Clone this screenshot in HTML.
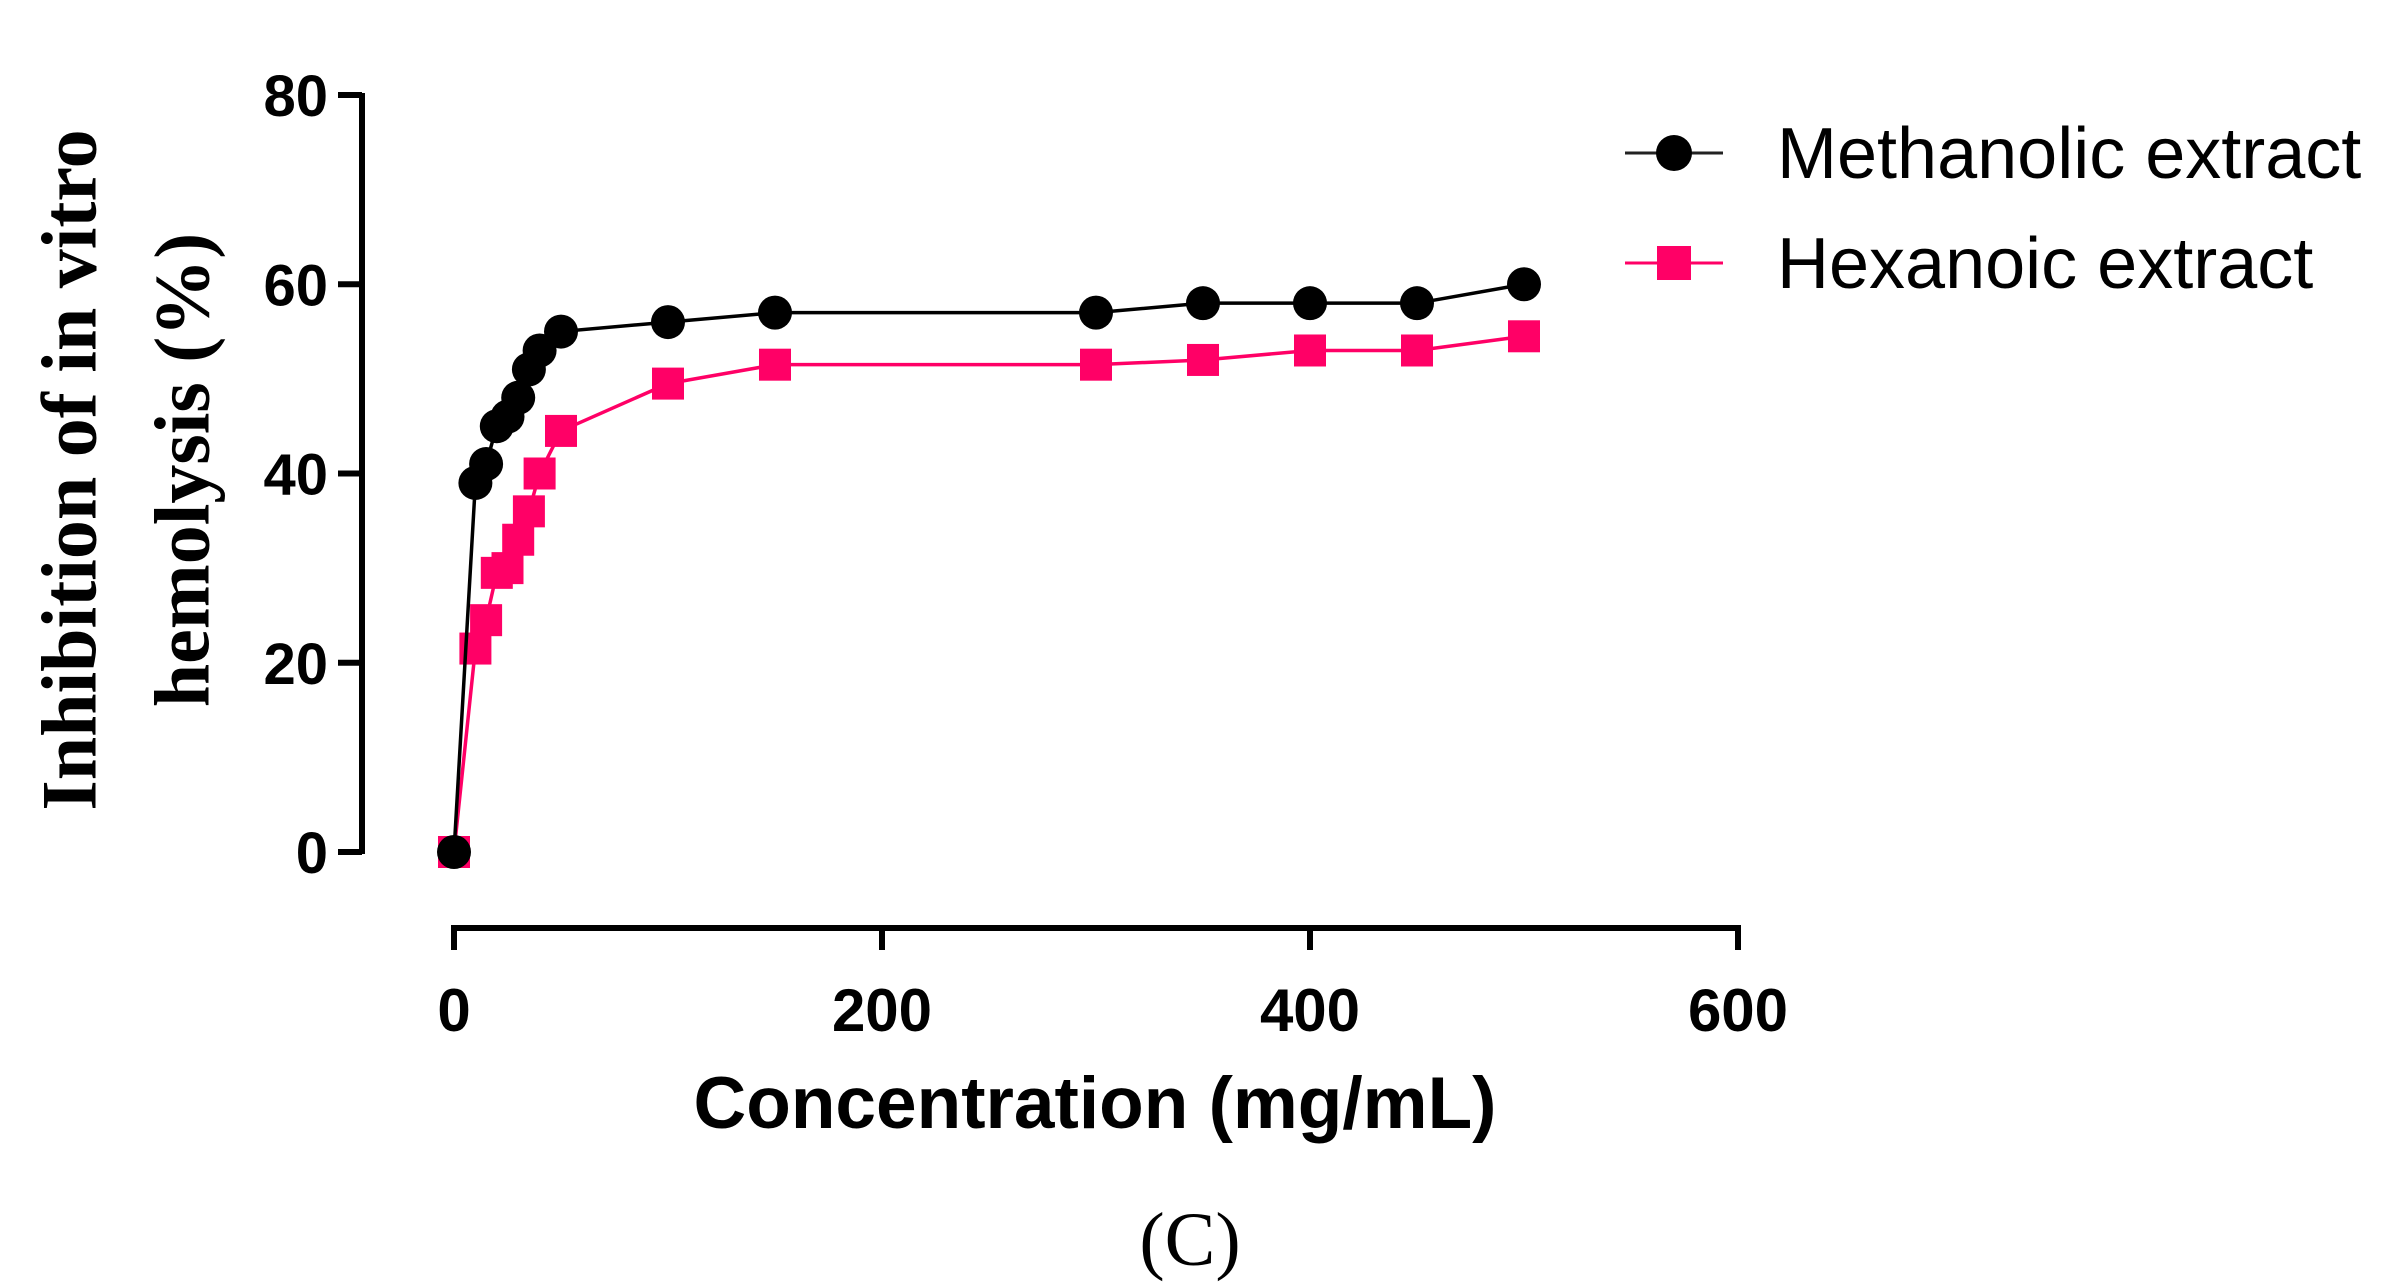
<!DOCTYPE html>
<html><head><meta charset="utf-8"><style>
html,body{margin:0;padding:0;background:#fff;}
svg{display:block;}
</style></head><body>
<svg id="chart" width="2397" height="1283" viewBox="0 0 2397 1283" xmlns="http://www.w3.org/2000/svg">
<g id="axes"></g>
<g id="series"></g>
<text x="69" y="470" transform="rotate(-90 69 470)" text-anchor="middle" dominant-baseline="central" font-family="Liberation Serif, serif" font-weight="bold" font-size="78" fill="#000">Inhibition of in vitro</text>
<text x="182" y="470" transform="rotate(-90 182 470)" text-anchor="middle" dominant-baseline="central" font-family="Liberation Serif, serif" font-weight="bold" font-size="78" fill="#000">hemolysis (%)</text>
<text x="1095" y="1128" text-anchor="middle" font-family="Liberation Sans, sans-serif" font-weight="bold" font-size="73" fill="#000">Concentration (mg/mL)</text>
<text x="1190" y="1265" text-anchor="middle" font-family="Liberation Serif, serif" font-size="76" fill="#000">(C)</text>
<g>
<g>
<line x1="1625" y1="153" x2="1723" y2="153" stroke="#222" stroke-width="3"/>
<circle cx="1674" cy="153" r="18" fill="#000"/>
<text x="1777" y="178" font-family="Liberation Sans, sans-serif" font-size="72" fill="#000">Methanolic extract</text>
</g>
<g>
<line x1="1625" y1="263" x2="1723" y2="263" stroke="#ff0066" stroke-width="3"/>
<rect x="1657" y="246" width="34" height="34" fill="#ff0066"/>
<text x="1777" y="288" font-family="Liberation Sans, sans-serif" font-size="72" fill="#000">Hexanoic extract</text>
</g>
</g>
</svg>
<script>
const concentrations = [0,10,15,20,25,30,35,40,50,100,150,300,350,400,450,500];
const methanolic = [0,39,41,45,46,48,51,53,55,56,57,57,58,58,58,60];
const hexanoic = [0,21.5,24.5,29.5,30,33,36,40,44.5,49.5,51.5,51.5,52,53,53,54.5];
const yTicks = [0,20,40,60,80];
const xTicks = [0,200,400,600];

const NS='http://www.w3.org/2000/svg';
const X0=454,X1=1738,Y0=852,Y1=95;
const xs=v=>X0+(v/600)*(X1-X0);
const ys=v=>Y0-(v/80)*(Y0-Y1);
function mk(tag,attrs,parent){const e=document.createElementNS(NS,tag);for(const k in attrs)e.setAttribute(k,attrs[k]);parent.appendChild(e);return e;}
const axes=document.getElementById('axes');
const ser=document.getElementById('series');
let ya=mk('line',{x1:362,y1:Y1-2,x2:362,y2:Y0+2,stroke:'#000','stroke-width':6},axes);


yTicks.forEach(t=>{
 const l=mk('line',{x1:338,y1:ys(t),x2:362,y2:ys(t),stroke:'#000','stroke-width':6},axes);
 
 
 const tx=mk('text',{x:328,y:ys(t)+21,'text-anchor':'end','font-family':'Liberation Sans, sans-serif','font-weight':'bold','font-size':58,fill:'#000'},axes);
 tx.textContent=t;
 
 
});
let xa=mk('line',{x1:X0-3,y1:928,x2:X1+3,y2:928,stroke:'#000','stroke-width':6},axes);


xTicks.forEach(t=>{
 const l=mk('line',{x1:xs(t),y1:928,x2:xs(t),y2:950,stroke:'#000','stroke-width':6},axes);
 
 
 const tx=mk('text',{x:xs(t),y:1031,'text-anchor':'middle','font-family':'Liberation Sans, sans-serif','font-weight':'bold','font-size':60,fill:'#000'},axes);
 tx.textContent=t;
 
 
});
function drawSeries(vals,color,shape,name){
 const pts=concentrations.map((c,i)=>xs(c)+','+ys(vals[i])).join(' ');
 const pl=mk('polyline',{points:pts,fill:'none',stroke:color,'stroke-width':3.5},ser);
 
 
 concentrations.forEach((c,i)=>{
  let m;
  if(shape==='circle') m=mk('circle',{cx:xs(c),cy:ys(vals[i]),r:17,fill:color},ser);
  else m=mk('rect',{x:xs(c)-16,y:ys(vals[i])-16,width:32,height:32,fill:color},ser);
  
  
 });
}
drawSeries(hexanoic,'#ff0066','square','hexanoic');
drawSeries(methanolic,'#000','circle','methanolic');
</script>
</body></html>
